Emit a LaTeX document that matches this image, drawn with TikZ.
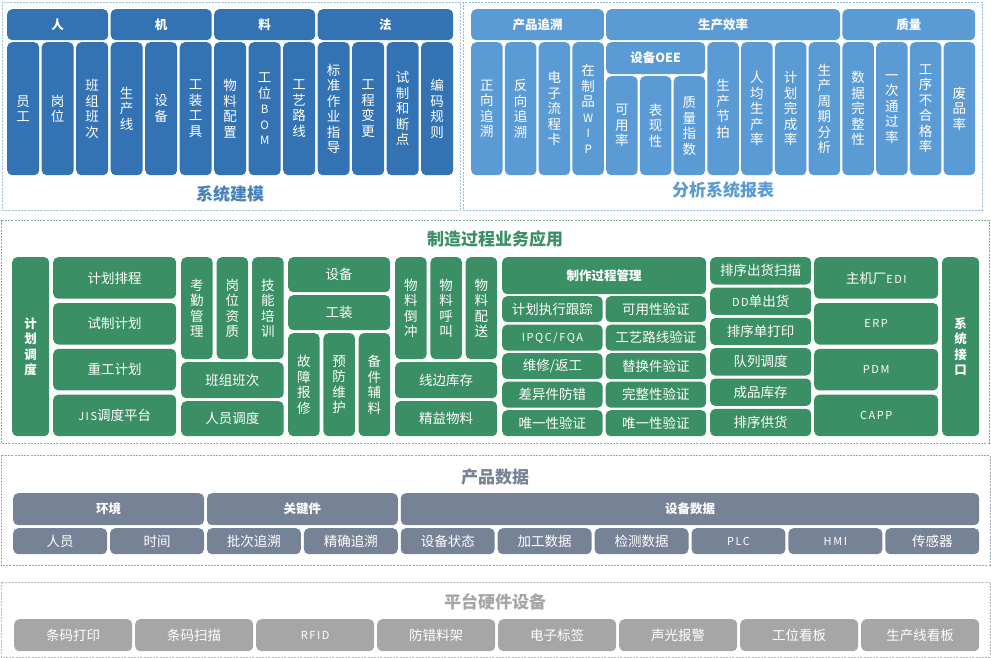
\documentclass[tikz,border=0pt]{standalone}
\usepackage{fontspec}
\setmainfont{Noto Sans CJK SC}

\definecolor{mjDark}{HTML}{3373B4}
\definecolor{mjLight}{HTML}{5B9BD5}
\definecolor{mjGreen}{HTML}{3B8F65}
\definecolor{mjSlate}{HTML}{768296}
\definecolor{mjGray}{HTML}{A6A6A6}

\newcommand\lat[1]{{\fontsize{11}{13}\selectfont\addfontfeature{LetterSpace=14}#1}}
\newcommand\latv[1]{{\fontsize{11.5}{13}\selectfont #1}}

\tikzset{
  blk/.style 2 args={anchor=north west, minimum width=#1, minimum height=#2,
    inner sep=0pt, rounded corners=5pt, text=white, align=center,
    font=\fontsize{13.5}{15.5}\selectfont},
  hdr/.style={font=\bfseries\fontsize{12.5}{15.5}\selectfont},
  cDark/.style={fill=mjDark},
  cLight/.style={fill=mjLight},
  cGreen/.style={fill=mjGreen},
  cSlate/.style={fill=mjSlate},
  cGray/.style={fill=mjGray},
  panel/.style={dash pattern=on 2pt off 1.2pt, line width=0.8pt},
  ptitle/.style={font=\bfseries\fontsize{17}{20}\selectfont}
}

\begin{document}
\begin{tikzpicture}[x=1pt,y=-1pt]
\useasboundingbox (0,0) rectangle (991,658);

% frames
\draw[panel,draw=mjDark!45] (2,2) rectangle (460,210);
\draw[panel,draw=mjLight!70] (463,2) rectangle (982,210);
\draw[panel,draw=mjGreen!70] (1,220) rectangle (989,443);
\draw[panel,draw=mjSlate!70] (1,455) rectangle (990,565);
\draw[panel,draw=mjGray!80] (1,582) rectangle (990,657);

% system modelling
\node[blk={101}{31},cDark,hdr] (ren) at (7,9) {人};
\node[blk={101}{31},cDark,hdr] (ji) at (110.5,9) {机};
\node[blk={101}{31},cDark,hdr] (liao) at (214,9) {料};
\node[blk={135.5}{31},cDark,hdr] (fa) at (317.5,9) {法};
\node[blk={32}{133},cDark] (yuangong) at (7,42) {员\\工};
\node[blk={32}{133},cDark] (gangwei) at (41.5,42) {岗\\位};
\node[blk={32}{133},cDark] (banci) at (76,42) {班\\组\\班\\次};
\node[blk={32}{133},cDark] (chanxian) at (110.5,42) {生\\产\\线};
\node[blk={32}{133},cDark] (shebei) at (145,42) {设\\备};
\node[blk={32}{133},cDark] (gongju) at (179.5,42) {工\\装\\工\\具};
\node[blk={32}{133},cDark] (peizhi) at (214,42) {物\\料\\配\\置};
\node[blk={32}{133},cDark] (bom) at (248.5,42) {工\\位\\\latv{B}\\\latv{O}\\\latv{M}};
\node[blk={32}{133},cDark] (luxian) at (283,42) {工\\艺\\路\\线};
\node[blk={32}{133},cDark] (zhidao) at (317.5,42) {标\\准\\作\\业\\指\\导};
\node[blk={32}{133},cDark] (biangeng) at (352,42) {工\\程\\变\\更};
\node[blk={32}{133},cDark] (duandian) at (386.5,42) {试\\制\\和\\断\\点};
\node[blk={32}{133},cDark] (bianma) at (421,42) {编\\码\\规\\则};
\node[ptitle,text=mjDark!90!white] (jianmo) at (230,194) {系统建模};

% reports
\node[blk={132.75}{31},cLight,hdr] (zhuisu) at (471,9) {产品追溯};
\node[blk={234}{31},cLight,hdr] (xiaolv) at (606,9) {生产效率};
\node[blk={132.75}{31},cLight,hdr] (zhiliang) at (842.25,9) {质量};
\node[blk={31.5}{133},cLight] (zhengxiang) at (471,42) {正\\向\\追\\溯};
\node[blk={31.5}{133},cLight] (fanxiang) at (504.75,42) {反\\向\\追\\溯};
\node[blk={31.5}{133},cLight] (liuchengka) at (538.5,42) {电\\子\\流\\程\\卡};
\node[blk={31.5}{133},cLight] (wip) at (572.25,42) {在\\制\\品\\\latv{W}\\\latv{I}\\\latv{P}};
\node[blk={99}{32},cLight,hdr] (oee) at (606,42) {设备OEE};
\node[blk={31.5}{99},cLight] (keyong) at (606,76) {可\\用\\率};
\node[blk={31.5}{99},cLight] (biaoxian) at (639.75,76) {表\\现\\性};
\node[blk={31.5}{99},cLight] (zhishu) at (673.5,76) {质\\量\\指\\数};
\node[blk={31.5}{133},cLight] (jiepai) at (707.25,42) {生\\产\\节\\拍};
\node[blk={31.5}{133},cLight] (renjun) at (741,42) {人\\均\\生\\产\\率};
\node[blk={31.5}{133},cLight] (wancheng) at (774.75,42) {计\\划\\完\\成\\率};
\node[blk={31.5}{133},cLight] (zhouqi) at (808.5,42) {生\\产\\周\\期\\分\\析};
\node[blk={31.5}{133},cLight] (wanzheng) at (842.25,42) {数\\据\\完\\整\\性};
\node[blk={31.5}{133},cLight] (tongguo) at (876,42) {一\\次\\通\\过\\率};
\node[blk={31.5}{133},cLight] (buhege) at (909.75,42) {工\\序\\不\\合\\格\\率};
\node[blk={31.5}{133},cLight] (feipin) at (943.5,42) {废\\品\\率};
\node[ptitle,text=mjLight] (baobiao) at (723,190) {分析系统报表};

% manufacturing process
\node[ptitle,text=mjGreen] (yewu) at (495,239) {制造过程业务应用};
\node[blk={37}{179},cGreen,hdr] (diaodu) at (12,257) {计\\划\\调\\度};
\node[blk={123}{41.5},cGreen] (paicheng) at (53,257) {计划排程};
\node[blk={123}{41.5},cGreen] (shizhi) at (53,302.8) {试制计划};
\node[blk={123}{41.5},cGreen] (chonggong) at (53,348.7) {重工计划};
\node[blk={123}{41.5},cGreen] (jis) at (53,394.5) {\lat{JIS}调度平台};
\node[blk={31.5}{102},cGreen] (kaoqin) at (181,257) {考\\勤\\管\\理};
\node[blk={31.5}{102},cGreen] (zizhi) at (216.5,257) {岗\\位\\资\\质};
\node[blk={31.5}{102},cGreen] (peixun) at (252,257) {技\\能\\培\\训};
\node[blk={102.5}{36},cGreen] (banzu) at (181,362) {班组班次};
\node[blk={102.5}{35},cGreen] (renyuan) at (181,401) {人员调度};
\node[blk={102}{35},cGreen] (shebeiM) at (288,257) {设备};
\node[blk={102}{35},cGreen] (gongzhuang) at (288,295) {工装};
\node[blk={31.5}{103},cGreen] (baoxiu) at (288,333) {故\\障\\报\\修};
\node[blk={31.5}{103},cGreen] (weihu) at (323.25,333) {预\\防\\维\\护};
\node[blk={31.5}{103},cGreen] (fuliao) at (358.5,333) {备\\件\\辅\\料};
\node[blk={31.5}{102},cGreen] (daochong) at (395,257) {物\\料\\倒\\冲};
\node[blk={31.5}{102},cGreen] (hujiao) at (430.25,257) {物\\料\\呼\\叫};
\node[blk={31.5}{102},cGreen] (peisong) at (465.5,257) {物\\料\\配\\送};
\node[blk={102}{36},cGreen] (xianbian) at (395,362) {线边库存};
\node[blk={102}{35},cGreen] (jingyi) at (395,401) {精益物料};
\node[blk={204}{37},cGreen,hdr] (guanli) at (502,257) {制作过程管理};
\node[blk={100.5}{26},cGreen] (genzong) at (502,296) {计划执行跟踪};
\node[blk={100.5}{26},cGreen] (ipqc) at (502,324.5) {\lat{IPQC/FQA}};
\node[blk={100.5}{26},cGreen] (fangong) at (502,353) {维修/返工};
\node[blk={100.5}{26},cGreen] (fangcuo) at (502,381.5) {差异件防错};
\node[blk={100.5}{26},cGreen] (weiyiA) at (502,410) {唯一性验证};
\node[blk={100.5}{26},cGreen] (keyongxing) at (605.5,296) {可用性验证};
\node[blk={100.5}{26},cGreen] (luxianyz) at (605.5,324.5) {工艺路线验证};
\node[blk={100.5}{26},cGreen] (tihuan) at (605.5,353) {替换件验证};
\node[blk={100.5}{26},cGreen] (wanzhengxing) at (605.5,381.5) {完整性验证};
\node[blk={100.5}{26},cGreen] (weiyiB) at (605.5,410) {唯一性验证};
\node[blk={101}{27.3},cGreen] (saomiao) at (710,257) {排序出货扫描};
\node[blk={101}{27.3},cGreen] (ddchuhuo) at (710,287.3) {\lat{DD}单出货};
\node[blk={101}{27.3},cGreen] (dayin) at (710,317.7) {排序单打印};
\node[blk={101}{27.3},cGreen] (duilie) at (710,348) {队列调度};
\node[blk={101}{27.3},cGreen] (chengpin) at (710,378.4) {成品库存};
\node[blk={101}{27.3},cGreen] (gonghuo) at (710,408.7) {排序供货};
\node[blk={124}{41.5},cGreen] (edi) at (814,257) {主机厂\lat{EDI}};
\node[blk={124}{41.5},cGreen] (erp) at (814,302.8) {\lat{ERP}};
\node[blk={124}{41.5},cGreen] (pdm) at (814,348.7) {\lat{PDM}};
\node[blk={124}{41.5},cGreen] (capp) at (814,394.5) {\lat{CAPP}};
\node[blk={37}{179},cGreen,hdr] (jiekou) at (942,257) {系\\统\\接\\口};

% product data
\node[ptitle,text=mjSlate] (chanpin) at (495,477) {产品数据};
\node[blk={190.8}{32},cSlate,hdr] (huanjing) at (13,493) {环境};
\node[blk={190.8}{32},cSlate,hdr] (guanjian) at (206.8,493) {关键件};
\node[blk={578.4}{32},cSlate,hdr] (sbshuju) at (400.6,493) {设备数据};
\node[blk={93.9}{26},cSlate] (renyuanP) at (13,528) {人员};
\node[blk={93.9}{26},cSlate] (shijian) at (109.9,528) {时间};
\node[blk={93.9}{26},cSlate] (pici) at (206.8,528) {批次追溯};
\node[blk={93.9}{26},cSlate] (jingque) at (303.7,528) {精确追溯};
\node[blk={93.9}{26},cSlate] (zhuangtai) at (400.6,528) {设备状态};
\node[blk={93.9}{26},cSlate] (jiagong) at (497.5,528) {加工数据};
\node[blk={93.9}{26},cSlate] (jiance) at (594.4,528) {检测数据};
\node[blk={93.9}{26},cSlate] (plc) at (691.3,528) {\lat{PLC}};
\node[blk={93.9}{26},cSlate] (hmi) at (788.2,528) {\lat{HMI}};
\node[blk={93.9}{26},cSlate] (chuanganqi) at (885.1,528) {传感器};

% hardware
\node[ptitle,text=mjGray] (yingjian) at (495,602) {平台硬件设备};
\node[blk={118}{32},cGray] (tmdayin) at (14,619) {条码打印};
\node[blk={118}{32},cGray] (tmsaomiao) at (135,619) {条码扫描};
\node[blk={118}{32},cGray] (rfid) at (256,619) {\lat{RFID}};
\node[blk={118}{32},cGray] (liaojia) at (377,619) {防错料架};
\node[blk={118}{32},cGray] (biaoqian) at (498,619) {电子标签};
\node[blk={118}{32},cGray] (baojing) at (619,619) {声光报警};
\node[blk={118}{32},cGray] (gwkanban) at (740,619) {工位看板};
\node[blk={118}{32},cGray] (cxkanban) at (861,619) {生产线看板};

\end{tikzpicture}
\end{document}
